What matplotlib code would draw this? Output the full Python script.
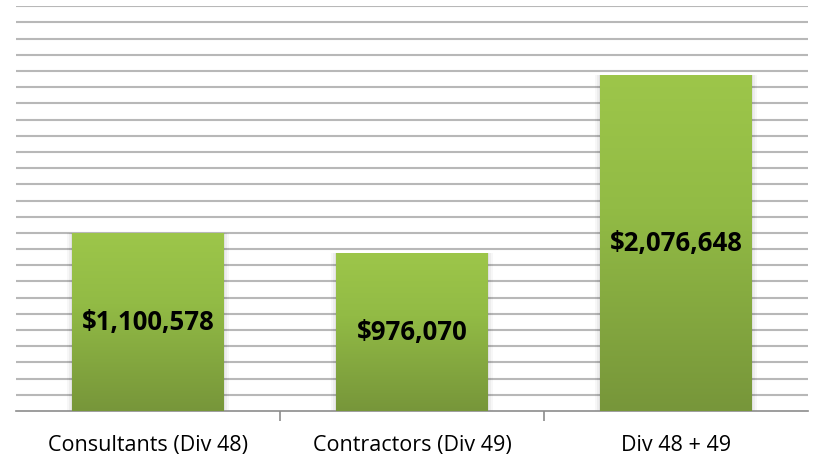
import matplotlib
matplotlib.use("Agg")
import matplotlib.pyplot as plt
import numpy as np
from matplotlib.colors import LinearSegmentedColormap

categories = ["Consultants (Div 48)", "Contractors (Div 49)", "Div 48 + 49"]
values = [1100578, 976070, 2076648]
labels = ["$1,100,578", "$976,070", "$2,076,648"]

fig = plt.figure(figsize=(8.15, 4.6), dpi=100)
ax = fig.add_axes([16/815, 48/460, (808-16)/815, (412-7.3)/460])

ax.set_xlim(-0.5, 2.5)
ax.set_ylim(0, 2500000)
ax.set_yticks(np.arange(100000, 2500001, 100000))
ax.yaxis.grid(True, color="#b8b8b8", linewidth=1.5)
ax.set_axisbelow(True)
ax.tick_params(axis="y", left=False, labelleft=False)
for s in ["top", "right", "left"]:
    ax.spines[s].set_visible(False)
ax.spines["bottom"].set_color("#8c8c8c")
ax.spines["bottom"].set_linewidth(1.2)

bars = ax.bar(range(len(values)), values, width=0.575, color="none", zorder=3)

cmap = LinearSegmentedColormap.from_list("g", [(0, "#77963a"), (0.6, "#92bb45"), (1, "#9dc64a")])
grad = np.linspace(0, 1, 256).reshape(-1, 1)
for b in bars:
    x0, w, h = b.get_x(), b.get_width(), b.get_height()
    for i, a in enumerate([0.05, 0.04, 0.03]):
        d = (i + 1) * 0.006
        ax.add_patch(plt.Rectangle((x0 - d, 0), w + 2 * d, h + d * 25000, color="#000000",
                                   alpha=a, zorder=2, linewidth=0))
    im = ax.imshow(grad, extent=[x0, x0 + w, 0, h], origin="lower", aspect="auto", cmap=cmap, zorder=3)
    im.set_clip_path(b)

ax.set_aspect("auto")
ax.set_xlim(-0.5, 2.5)
ax.set_ylim(0, 2500000)

for i, (v, lab) in enumerate(zip(values, labels)):
    ax.text(i, v / 2, lab, ha="center", va="center", fontsize=18.5, fontweight="bold",
            family="Open Sans", color="black", zorder=5)

ax.set_xticks([0.5, 1.5])
ax.set_xticklabels([])
ax.tick_params(axis="x", length=7, color="#8c8c8c", width=1.2)
for i, c in enumerate(categories):
    ax.text(i, -0.083, c, transform=ax.get_xaxis_transform(), ha="center", va="center",
            fontsize=15.5, family="Open Sans", color="black")

fig.savefig("out.png", dpi=100)
